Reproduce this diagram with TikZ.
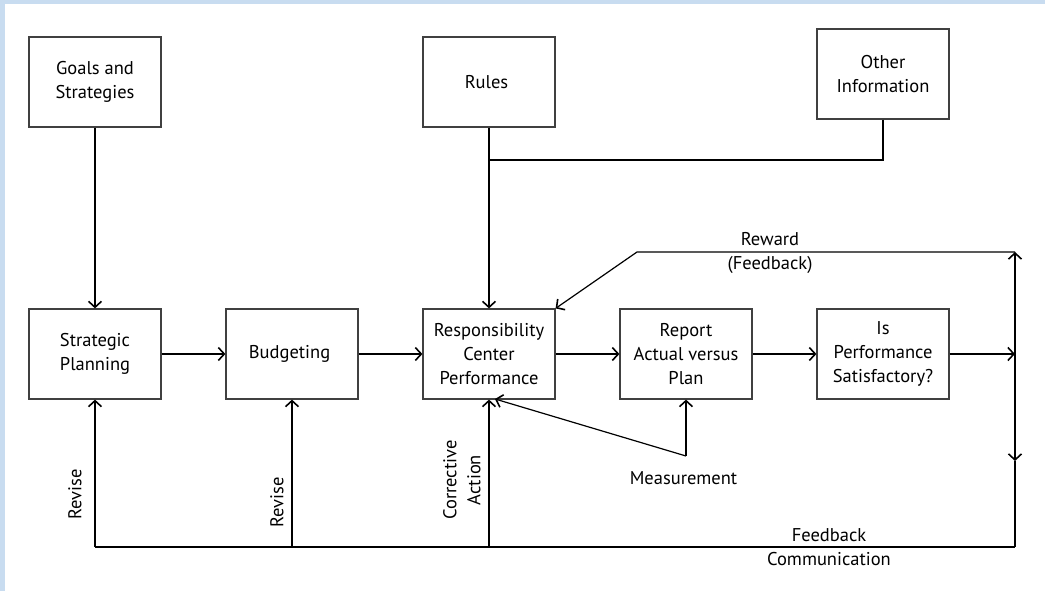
\documentclass[tikz,border=0pt]{standalone}
\usepackage{fontspec}
\setmainfont{PT Sans}
\usetikzlibrary{arrows.meta}
\definecolor{pagebg}{RGB}{200,220,240}

\begin{document}
\begin{tikzpicture}[x = 1pt, y = -1pt,
    every node/.style = { align = center, font = \fontsize{18.5}{24}\selectfont },
    box/.style = { draw = black!75, line width = 1.2pt, minimum width = 132pt, minimum height = 90pt, inner sep = 0pt },
    flow/.style = { line width = 1.2pt, -{Straight Barb[length = 6pt, width = 13pt, line width = 1.6pt]} },
    link/.style = { line width = 1.2pt }]
    % page
    \fill[pagebg] (0,0) rectangle (1045,591);
    \fill[white] (5,4) rectangle (1045,591);

    % inputs
    \node[box] (goals) at (95,82) { Goals and \\ Strategies };
    \node[box] (rules) at (489,82) { Rules };
    \node[box] (other) at (883,74) { Other \\ Information };

    % main chain
    \node[box] (plan)   at (95,354)  { Strategic \\ Planning };
    \node[box] (budget) at (292,354) { Budgeting };
    \node[box] (resp)   at (489,354) { Responsibility \\ Center \\ Performance };
    \node[box] (report) at (686,354) { Report \\ Actual versus \\ Plan };
    \node[box] (satis)  at (883,354) { Is \\ Performance \\ Satisfactory? };

    \coordinate (join)  at (489,160);
    \coordinate (rtop)  at (1015,252);
    \coordinate (rmid)  at (1015,354);
    \coordinate (rdown) at (1015,461);
    \coordinate (rbot)  at (1015,547);
    \coordinate (bend)  at (637,252);
    \coordinate (meas)  at (686,456);
    \coordinate (rsp)   at (495,399);
    \coordinate (bl)    at (95,547);
    \coordinate (rev)   at (292,547);
    \coordinate (corr)  at (489,547);

    \draw[flow] (goals) -- (plan);
    \draw[flow] (rules) -- (resp);
    \draw[link] (other) |- (join);

    \draw[flow] (plan) -- (budget);
    \draw[flow] (budget) -- (resp);
    \draw[flow] (resp) -- (report);
    \draw[flow] (report) -- (satis);
    \draw[flow] (satis) -- (rmid);

    % feedback loops
    \draw[flow] (rmid) -- (rtop);
    \draw[flow] (rmid) -- (rdown);
    \draw[link] (rdown) -- (rbot);
    \draw[flow] (rtop) -- (bend) -- (resp.north east);
    \node (reward) at (770,253) { Reward \\ (Feedback) };

    \draw[link] (bl) -- (rbot);
    \draw[flow] (bl) -- (plan);
    \draw[flow] (rev) -- (budget);
    \draw[flow] (corr) -- (resp);
    \node (fbc) at (829,547) { Feedback \\ Communication };

    \draw[flow] (meas) -- (report);
    \draw[flow] (meas) -- (rsp);
    \node (measlbl) at (686,478) { Measurement };

    \node[rotate = 90] (rev1) at (75,492) { Revise };
    \node[rotate = 90] (rev2) at (277,500) { Revise };
    \node[rotate = 90] (corrlbl) at (462,480) { Corrective \\ Action };
\end{tikzpicture}
\end{document}
